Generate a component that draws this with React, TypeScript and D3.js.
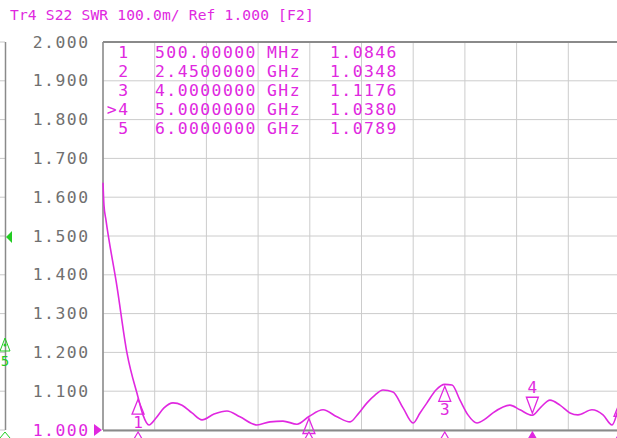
import { useRef, useEffect } from 'react'
import * as d3 from 'd3'

// trace Tr4, S22 SWR, 100 MHz .. 6 GHz
const freqs = [
  0.1, 0.111, 0.134, 0.26, 0.374, 0.5, 0.556, 0.625, 0.705, 0.796, 0.899, 1.002, 1.116, 1.23, 1.367,
  1.515, 1.663, 1.857, 2.006, 2.154, 2.314, 2.45, 2.611, 2.77, 2.919, 3.01, 3.113, 3.204, 3.295,
  3.409, 3.524, 3.638, 3.718, 3.797, 3.9, 4.0, 4.083, 4.174, 4.265, 4.368, 4.459, 4.55, 4.744, 4.858,
  5.0, 5.098, 5.201, 5.315, 5.429, 5.52, 5.68, 5.806, 5.909, 5.966, 6.0,
]
const swr = [
  1.637, 1.58, 1.541, 1.369, 1.198, 1.0846, 1.039, 1.013, 1.031, 1.057, 1.07, 1.064, 1.044, 1.026, 1.041,
  1.049, 1.034, 1.013, 1.021, 1.023, 1.015, 1.0348, 1.052, 1.034, 1.021, 1.041, 1.07, 1.09, 1.103,
  1.098, 1.057, 1.018, 1.044, 1.07, 1.103, 1.1176, 1.116, 1.077, 1.039, 1.018, 1.028, 1.044, 1.064, 1.052,
  1.038, 1.059, 1.077, 1.064, 1.044, 1.039, 1.052, 1.039, 1.013, 1.044, 1.0789,
]

const markerIds = ['1', '2', '3', '4', '5']
const markerFreqs = [0.5, 2.45, 4.0, 5.0, 6.0]
const markerValues = [1.0846, 1.0348, 1.1176, 1.038, 1.0789]
const activeMarker = 3

const yTicks = [2.0, 1.9, 1.8, 1.7, 1.6, 1.5, 1.4, 1.3, 1.2, 1.1, 1.0]
const title = 'Tr4 S22 SWR 100.0m/ Ref 1.000 [F2]'

const W = 617
const H = 438
const MAG = '#e028e0'
const GREEN = '#22cc22'
const FONT = '"DejaVu Sans Mono", monospace'

export default function App() {
  const ref = useRef<SVGSVGElement>(null)

  useEffect(() => {
    if (!ref.current) return
    const svg = d3.select(ref.current)
    svg.selectAll('*').remove()

    const x = d3.scaleLinear().domain([0.1, 6.0]).range([103, 620])
    const y = d3.scaleLinear().domain([1.0, 2.0]).range([430, 42])

    svg.append('rect').attr('width', W).attr('height', H).attr('fill', '#fff')

    // left neighbour window
    const left = svg.append('g')
    yTicks.forEach(t => {
      left.append('line').attr('x1', 0).attr('x2', 5).attr('y1', y(t)).attr('y2', y(t))
        .attr('stroke', '#c8c8c8')
    })
    left.append('line').attr('x1', 5.5).attr('x2', 5.5).attr('y1', 42).attr('y2', 430)
      .attr('stroke', '#8a8a8a').attr('stroke-width', 1.5)
    left.append('path').attr('d', 'M6,237 L12,231 L12,243 Z').attr('fill', GREEN)
    left.append('path').attr('d', 'M5,338 L10,351 L0,351 Z').attr('fill', 'none').attr('stroke', GREEN)
    left.append('circle').attr('cx', 5).attr('cy', 345).attr('r', 1.5).attr('fill', GREEN)
    left.append('text').attr('x', 5).attr('y', 366).attr('text-anchor', 'middle')
      .attr('font-family', FONT).attr('font-size', 14).attr('fill', GREEN).text('5')
    left.append('path').attr('d', 'M0,438 L5,432 L10,438').attr('fill', 'none').attr('stroke', GREEN)

    // grid
    const grid = svg.append('g').attr('stroke', '#cccccc').attr('stroke-width', 1)
    d3.range(0, 11).forEach(i => {
      const gx = x(0.1 + i * 0.59)
      grid.append('line').attr('x1', gx).attr('x2', gx).attr('y1', 42).attr('y2', 430)
    })
    yTicks.forEach(t => {
      grid.append('line').attr('x1', 103).attr('x2', 620).attr('y1', y(t)).attr('y2', y(t))
    })

    // frame
    svg.append('line').attr('x1', 103).attr('x2', 620).attr('y1', 42).attr('y2', 42)
      .attr('stroke', '#8a8a8a').attr('stroke-width', 1.8)
    svg.append('line').attr('x1', 103).attr('x2', 103).attr('y1', 42).attr('y2', 430)
      .attr('stroke', '#8a8a8a').attr('stroke-width', 1.5)
    svg.append('line').attr('x1', 103).attr('x2', 620).attr('y1', 430.5).attr('y2', 430.5)
      .attr('stroke', '#8a8a8a').attr('stroke-width', 2)

    // y labels
    const fmt = d3.format('.3f')
    yTicks.forEach(t => {
      svg.append('text').attr('x', 89.5).attr('y', y(t) + 5.5).attr('text-anchor', 'end')
        .attr('font-family', FONT).attr('font-size', 16.4).attr('letter-spacing', 1.5)
        .attr('fill', t === 1.0 ? MAG : '#707070').text(fmt(t))
    })
    svg.append('path').attr('d', 'M102,430 L94,424 L94,436 Z').attr('fill', MAG)

    // title
    svg.append('text').attr('x', 10).attr('y', 20).attr('font-family', FONT)
      .attr('font-size', 14.6).attr('letter-spacing', 0.15).attr('fill', MAG).text(title)

    // marker table
    const tbl = svg.append('g').attr('font-family', FONT).attr('font-size', 16.4)
      .attr('letter-spacing', 1.45).attr('fill', MAG)
    markerIds.forEach((id, i) => {
      const by = 58 + i * 18.9
      const f = markerFreqs[i]
      const fTxt = f < 1 ? `${(f * 1000).toFixed(5)}` : f.toFixed(7)
      const unit = f < 1 ? 'MHz' : 'GHz'
      tbl.append('text').attr('x', 129.5).attr('y', by).attr('text-anchor', 'end')
        .text(i === activeMarker ? '>' + id : id)
      tbl.append('text').attr('x', 155).attr('y', by).text(fTxt)
      tbl.append('text').attr('x', 267).attr('y', by).text(unit)
      tbl.append('text').attr('x', 330).attr('y', by).text(markerValues[i].toFixed(4))
    })

    // trace
    const pts = freqs.map((f, i) => [f, swr[i]] as [number, number])
    const line = d3.line<[number, number]>().x(d => x(d[0])).y(d => y(d[1]))
      .curve(d3.curveMonotoneX)
    svg.append('path').attr('d', line(pts)).attr('fill', 'none').attr('stroke', MAG)
      .attr('stroke-width', 1.6)

    // markers on trace
    const mk = svg.append('g').attr('fill', 'none').attr('stroke', MAG).attr('stroke-width', 1.3)
    markerFreqs.forEach((f, i) => {
      const mx = x(f)
      const my = y(markerValues[i])
      const label = (ly: number) => {
        // labels that fall outside the window are not shown by the analyzer either
        if (ly > H - 4 || mx > W - 6) return
        svg.append('text').attr('x', mx).attr('y', ly).attr('text-anchor', 'middle')
          .attr('font-family', FONT).attr('font-size', 16).attr('fill', MAG).text(markerIds[i])
      }
      if (i === activeMarker) {
        mk.append('path').attr('d', `M${mx},${my - 2} L${mx - 6},${my - 18} L${mx + 6},${my - 18} Z`)
        label(my - 22)
      } else {
        mk.append('path').attr('d', `M${mx},${my + 2} L${mx - 6},${my + 17} L${mx + 6},${my + 17} Z`)
        label(my + 31)
      }
      // stimulus marker on the bottom edge
      svg.append('path').attr('d', `M${mx},${432} L${mx - 7},${444} L${mx + 7},${444} Z`)
        .attr('fill', i === activeMarker ? MAG : '#fff').attr('stroke', MAG).attr('stroke-width', 1.2)
    })
  }, [])

  return (
    <div style={{ position: 'absolute', left: 0, top: 0 }}>
      <svg ref={ref} width={W} height={H} style={{ display: 'block' }} />
    </div>
  )
}
